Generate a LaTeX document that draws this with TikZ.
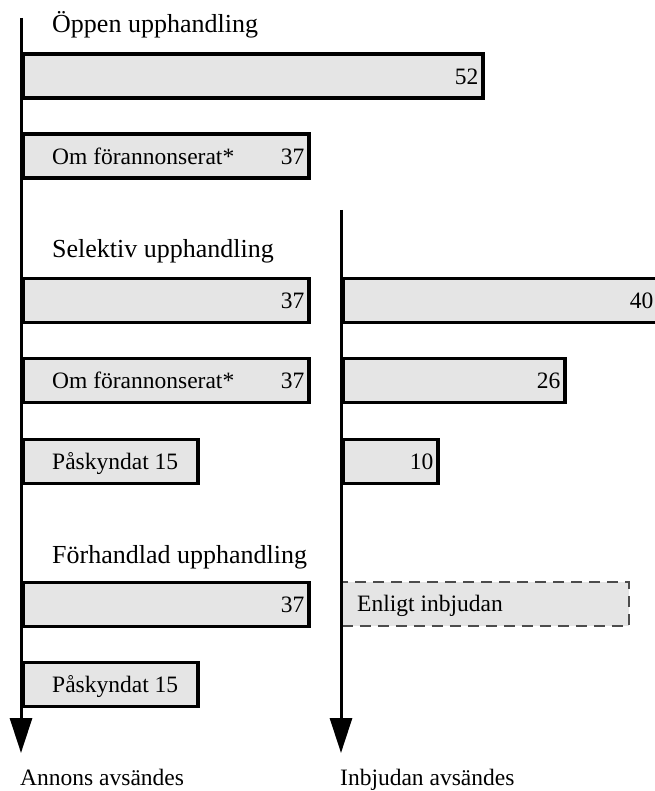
\documentclass[tikz,border=0pt]{standalone}
\usepackage{fontspec}
\setmainfont{Liberation Serif}
\usetikzlibrary{arrows.meta}
\definecolor{barfill}{gray}{0.9}
\begin{document}
\begin{tikzpicture}[x=1pt,y=1pt,bar/.style={draw,line width=3.5pt,fill=barfill,minimum height=44pt,inner sep=0,anchor=north west},
optbar/.style={bar,draw=black!70,line width=1.5pt,dash pattern=on 11pt off 7pt},
lbl/.style={anchor=west,inner sep=0,text height=15.6pt,text depth=0pt,font=\fontsize{23.5}{28}\selectfont},
num/.style={lbl,anchor=east,xshift=-6pt},
head/.style={anchor=base west,inner sep=0,font=\fontsize{26}{31}\selectfont},
foot/.style={anchor=base west,inner sep=0,font=\fontsize{23.5}{28}\selectfont},
axis/.style={line width=3pt,-{Triangle[width=22pt,length=35pt]}}]
\useasboundingbox(0,0)rectangle(654,-791);
\foreach \n/\x/\y/\w in {p1/21/52.5/460,p2/21/132.5/286,s1/21/276.5/286,s2/21/356.5/286,s3/21/437.5/175,f1/21/580.5/286,f2/21/660.5/175,r1/341/276.5/315,r2/341/356.5/222,r3/341/437.5/95}\node[bar,minimum width=\w](\n)at(\x,-\y){};
\node[optbar,minimum width=287](r4)at(341,-581){};
\foreach \n/\v in {p1/52,p2/37,s1/37,s2/37,f1/37,r1/40,r2/26,r3/10}\node[num](\n v)at(\n.east){\v};
\foreach \n/\t in {p2/Om förannonserat*,s2/Om förannonserat*,s3/Påskyndat 15,f2/Påskyndat 15}\node[lbl](\n t)at([xshift=31pt]\n.west){\t};
\node[lbl](r4t)at([xshift=16pt]r4.west){Enligt inbjudan};
\node[head](hp)at(52,-33){Öppen upphandling};\node[head](hs)at(52,-258){Selektiv upphandling};\node[head](hf)at(52,-563){Förhandlad upphandling};
\coordinate(a0)at(21,-18);\coordinate(a1)at(21,-753);\coordinate(b0)at(341,-210);\coordinate(b1)at(341,-753);
\draw[axis](a0)--(a1);\draw[axis](b0)--(b1);
\node[foot](fa)at(20,-785){Annons avsändes};\node[foot](fb)at(340,-785){Inbjudan avsändes};
\end{tikzpicture}
\end{document}
